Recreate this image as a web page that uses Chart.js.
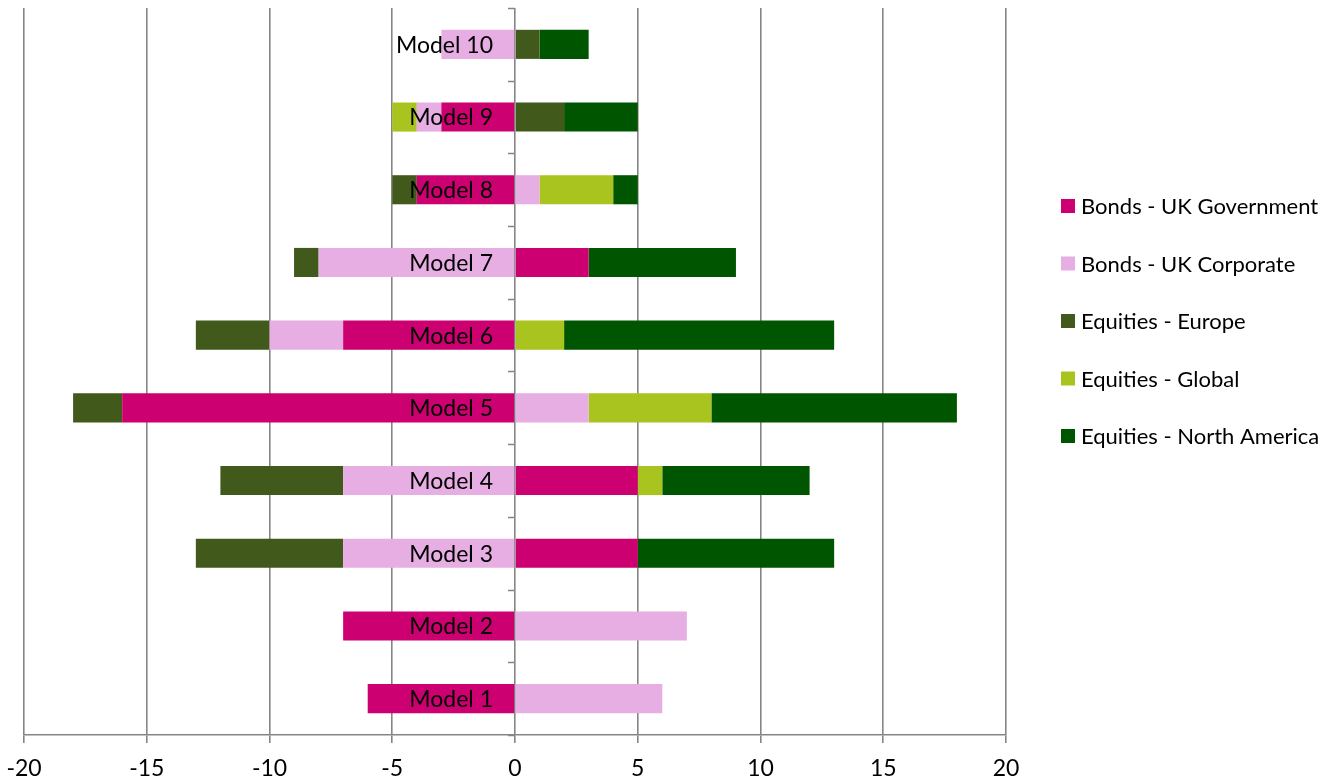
<!DOCTYPE html>
<html>
<head>
<meta charset="utf-8">
<script src="https://cdn.jsdelivr.net/npm/chart.js@4"></script>
<style>
  body { margin:0; background:#fff; }
  #wrap { width:1333px; height:780px; }
</style>
</head>
<body>
<div id="wrap"><canvas id="chart" width="1333" height="780"></canvas></div>
<script>
// categories, bottom to top
const models = ['Model 1','Model 2','Model 3','Model 4','Model 5','Model 6','Model 7','Model 8','Model 9','Model 10'];

// series values, one per model
const ukGov     = [-6, -7,  5,  5, -16, -7,  3, -4, -3,  0];
const ukCorp    = [ 6,  7, -7, -7,   3, -3, -8,  1, -1, -3];
const eqEurope  = [ 0,  0, -6, -5,  -2, -3, -1, -1,  2,  1];
const eqGlobal  = [ 0,  0,  0,  1,   5,  2,  0,  3, -1,  0];
const eqNorthAm = [ 0,  0,  8,  6,  10, 11,  6,  1,  3,  2];

const seriesNames = ['Bonds - UK Government','Bonds - UK Corporate','Equities - Europe','Equities - Global','Equities - North America'];
const colours = ['#CC0070','#E6AEE2','#41591B','#A9C41E','#005500'];

const xTicks = [-20, 20, 5]; // min, max, step

const FONT = {family:'Lato', size:23};
const GRID = '#858585';

Chart.defaults.font.family = FONT.family;
Chart.defaults.font.size = FONT.size;
Chart.defaults.color = '#000';

// model names sit left of the zero line, over the bars
const modelLabels = {
  id: 'modelLabels',
  afterDatasetsDraw(chart) {
    const {ctx} = chart;
    const xs = chart.scales.x, ys = chart.scales.y;
    const x0 = xs.getPixelForValue(0);
    ctx.save();

    // little tick marks on the zero axis between categories
    const p0 = ys.getPixelForValue(0), step = ys.getPixelForValue(1) - p0;
    ctx.strokeStyle = GRID;
    ctx.lineWidth = 1.5;
    for (let k = 0; k <= models.length; k++) {
      const y = Math.round(p0 + (k - 0.5) * step) + 0.5;
      ctx.beginPath();
      ctx.moveTo(x0 - 7, y);
      ctx.lineTo(x0, y);
      ctx.stroke();
    }

    ctx.font = FONT.size + 'px ' + FONT.family;
    ctx.fillStyle = '#000';
    ctx.textAlign = 'right';
    ctx.textBaseline = 'middle';
    models.forEach((m, i) => ctx.fillText(m, x0 - 22, ys.getPixelForValue(i) + 1));
    ctx.restore();
  }
};

// legend on the right, drawn by hand to get Excel's spacing
const sideLegend = {
  id: 'sideLegend',
  afterDraw(chart) {
    const {ctx} = chart;
    ctx.save();
    ctx.font = '22px ' + FONT.family;
    ctx.textAlign = 'left';
    ctx.textBaseline = 'middle';
    chart.data.datasets.forEach((ds, i) => {
      const y = 206 + i * 57.5;
      ctx.fillStyle = ds.backgroundColor;
      ctx.fillRect(1061, y - 7, 14, 14);
      ctx.fillStyle = '#000';
      ctx.fillText(ds.label, 1081, y + 1);
    });
    ctx.restore();
  }
};

const seriesData = [ukGov, ukCorp, eqEurope, eqGlobal, eqNorthAm];

new Chart(document.getElementById('chart'), {
  type: 'bar',
  plugins: [modelLabels, sideLegend],
  data: {
    labels: models,
    datasets: seriesData.map((d, i) => ({
      label: seriesNames[i],
      data: d,
      backgroundColor: colours[i],
      borderWidth: 0,
      categoryPercentage: 0.4,
      barPercentage: 1
    }))
  },
  options: {
    indexAxis: 'y',
    responsive: false,
    animation: false,
    layout: {padding: {left: 24, right: 327, top: 8, bottom: 0}},
    plugins: {
      legend: {display: false},
      tooltip: {enabled: false}
    },
    scales: {
      x: {
        stacked: true,
        min: xTicks[0], max: xTicks[1],
        ticks: {stepSize: xTicks[2], padding: 12, color:'#000', maxRotation: 0},
        grid: {color: GRID, lineWidth: 1.6, tickLength: 8, tickColor: GRID},
        border: {color: GRID, width: 1.6},
        afterFit: s => { s.height = 45; s.paddingLeft = 0; s.paddingRight = 0; }
      },
      y: {
        stacked: true,
        reverse: true,
        display: false
      }
    }
  }
});
</script>
</body>
</html>
